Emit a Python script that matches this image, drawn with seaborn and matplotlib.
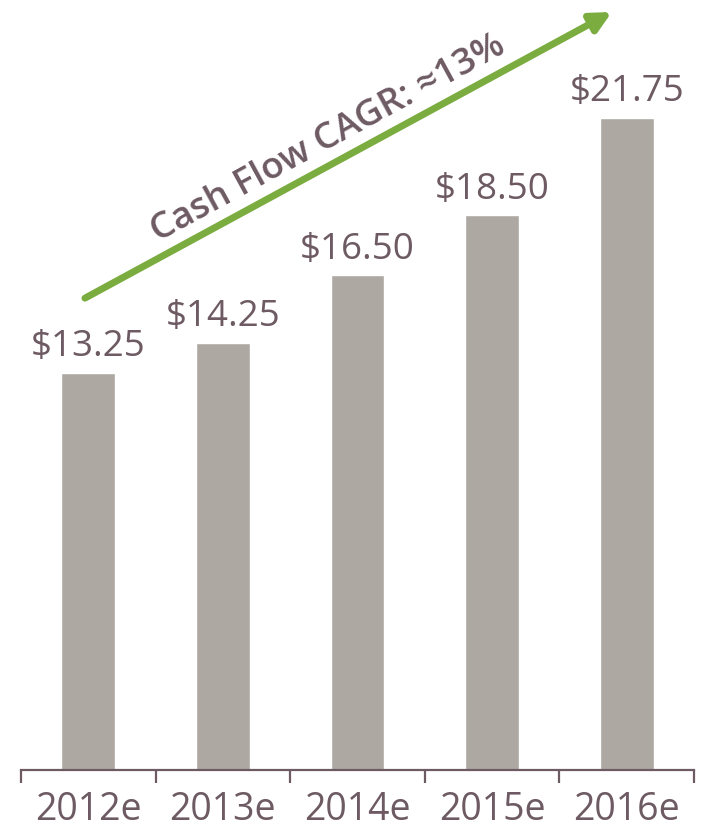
import pandas as pd
import seaborn as sns
from matplotlib import pyplot as plt

years = ['2012e', '2013e', '2014e', '2015e', '2016e']
cash_flow = [13.25, 14.25, 16.50, 18.50, 21.75]
value_labels = ['$13.25', '$14.25', '$16.50', '$18.50', '$21.75']
cagr_text = 'Cash Flow CAGR: \u224813%'

bar_color = '#ADA9A2'
text_color = '#6D5A62'
green = '#7BAC3F'

sns.set_style('white')
plt.rcParams['font.family'] = ['Open Sans', 'DejaVu Sans']

df = pd.DataFrame({'year': years, 'cf': cash_flow})

fig = plt.figure(figsize=(7.04, 8.33), dpi=100)
ax = fig.add_axes([0.0298, 0.0756, 0.956, 0.9244])
sns.barplot(data=df, x='year', y='cf', color=bar_color, width=0.4,
            saturation=1, ax=ax)

ax.set_xlim(-0.5, 4.5)
ax.set_ylim(0, 25.67)
ax.set_xlabel('')
ax.set_ylabel('')
ax.set_yticks([])
for s in ['top', 'right', 'left']:
    ax.spines[s].set_visible(False)
ax.spines['bottom'].set_color(text_color)
ax.spines['bottom'].set_linewidth(1.6)

# ticks between categories
ax.set_xticks([i - 0.5 for i in range(len(years) + 1)], minor=True)
ax.tick_params(axis='x', which='minor', length=9, width=1.6, color=text_color,
               direction='out', bottom=True)
ax.tick_params(axis='x', which='major', length=0, pad=15, labelsize=27,
               labelcolor=text_color)

# value labels
for i, (v, lab) in enumerate(zip(cash_flow, value_labels)):
    ax.text(i, v + 0.55, lab, ha='center', va='baseline', fontsize=26.5,
            color=text_color)

# growth arrow + label
ax.annotate('', xy=(3.89, 25.27), xytext=(-0.025, 15.73),
            arrowprops=dict(arrowstyle='-|>', lw=5, color=green,
                            mutation_scale=30, shrinkA=0, shrinkB=0))
ax.text(1.78, 21.05, cagr_text, rotation=28.6, rotation_mode='anchor',
        ha='center', va='center', fontsize=26.5, fontweight='semibold',
        color=text_color)

fig.savefig('out.png', dpi=100)
